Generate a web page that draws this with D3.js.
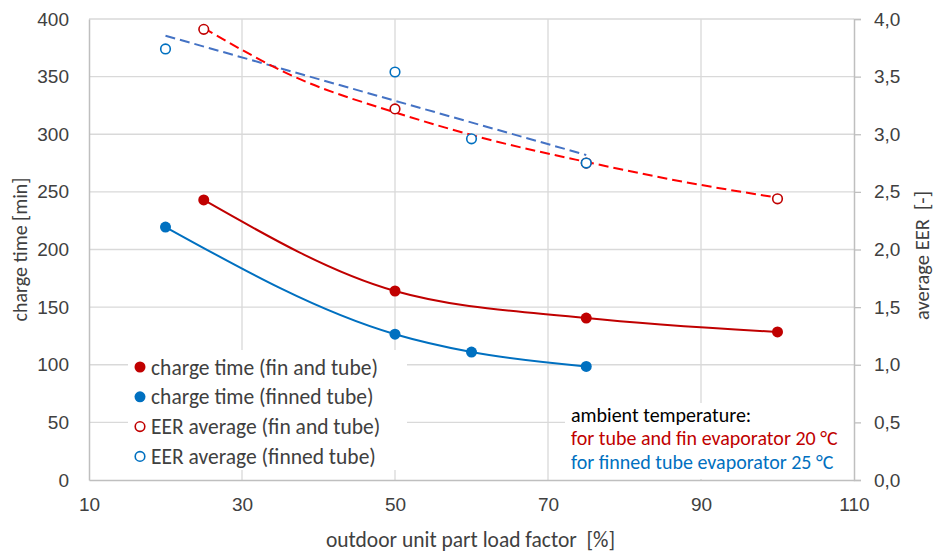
<!DOCTYPE html>
<html>
<head>
<meta charset="utf-8">
<script src="https://cdn.jsdelivr.net/npm/d3@7"></script>
<style>
  body { margin: 0; background: #fff; }
  svg { font-family: Carlito, Calibri, Lato, sans-serif; }
  .pre { white-space: pre; }
</style>
</head>
<body>
<svg id="chart" width="935" height="553"></svg>
<script>
// charge time [min]
const finTubeLoad = [25, 50, 75, 100];
const finTubeCharge = [243, 164, 140.5, 128.5];
const finnedLoad = [20, 50, 60, 75];
const finnedCharge = [219.5, 126.5, 111, 98.5];

// average EER [-]
const finTubeEER = [3.91, 3.22, 2.75, 2.44];
const finnedEER = [3.74, 3.54, 2.96, 2.75];

// trend lines
const finTubeTrendLoad = [25, 37.5, 50, 62.5, 75, 87.5, 100];
const finTubeTrendEER = [3.92, 3.48, 3.19, 2.95, 2.76, 2.59, 2.45];
const finnedTrendLoad = [20, 75];
const finnedTrendEER = [3.855, 2.82];

const xTicks = [10, 30, 50, 70, 90, 110];
const yTicks = [0, 50, 100, 150, 200, 250, 300, 350, 400];
const y2Ticks = [0, 0.5, 1, 1.5, 2, 2.5, 3, 3.5, 4];

const legendLabels = [
  'charge time (fin and tube)',
  'charge time (finned tube)',
  'EER average (fin and tube)',
  'EER average (finned tube)'
];
const noteLines = [
  'ambient temperature:',
  'for tube and fin evaporator 20 °C',
  'for finned tube evaporator 25 °C'
];

const RED = '#c00000', BLUE = '#0070c0';
const margin = { top: 19, right: 81, bottom: 73, left: 89 };
const width = 935 - margin.left - margin.right;
const height = 553 - margin.top - margin.bottom;

const svg = d3.select('#chart');
const g = svg.append('g').attr('transform', `translate(${margin.left},${margin.top})`);

const x = d3.scaleLinear().domain([10, 110]).range([0, width]);
const y = d3.scaleLinear().domain([0, 400]).range([height, 0]);
const y2 = d3.scaleLinear().domain([0, 4]).range([height, 0]);

// grid
g.append('g').selectAll('line').data(yTicks.filter(d => d > 0)).enter().append('line')
  .attr('x1', 0).attr('x2', width).attr('y1', d => y(d)).attr('y2', d => y(d))
  .attr('stroke', '#d9d9d9').attr('stroke-width', 1.3);
g.append('g').selectAll('line').data(xTicks.slice(1, -1)).enter().append('line')
  .attr('y1', 0).attr('y2', height).attr('x1', d => x(d)).attr('x2', d => x(d))
  .attr('stroke', '#d9d9d9').attr('stroke-width', 1.3);

// legend and note boxes cover the grid
g.append('rect').attr('x', 39).attr('y', 331).attr('width', 279).attr('height', 120).attr('fill', '#fff');
g.append('rect').attr('x', 476).attr('y', 384).attr('width', 289).attr('height', 76).attr('fill', '#fff');

// axes
const axL = g.append('g').call(d3.axisLeft(y).tickValues(yTicks).tickSize(0).tickPadding(20));
const axB = g.append('g').attr('transform', `translate(0,${height})`)
  .call(d3.axisBottom(x).tickValues(xTicks).tickSize(0).tickPadding(18));
const axR = g.append('g').attr('transform', `translate(${width},0)`)
  .call(d3.axisRight(y2).tickValues(y2Ticks).tickSize(7).tickPadding(13)
    .tickFormat(d => d3.format('.1f')(d).replace('.', ',')));
[axL, axB, axR].forEach(a => {
  a.select('.domain').attr('stroke', '#bfbfbf').attr('stroke-width', 1.5);
  a.selectAll('.tick line').attr('stroke', '#bfbfbf').attr('stroke-width', 1.3);
  a.selectAll('text').attr('fill', '#404040').style('font-size', '19px').style('font-family', 'inherit');
});

// axis titles
svg.append('text').attr('transform', `translate(27,${margin.top + height / 2}) rotate(-90)`)
  .attr('text-anchor', 'middle').attr('fill', '#404040').style('font-size', '20px')
  .text('charge time [min]');
svg.append('text').attr('class', 'pre').attr('transform', `translate(929,${margin.top + height / 2 + 6}) rotate(-90)`)
  .attr('text-anchor', 'middle').attr('fill', '#404040').style('font-size', '20.5px')
  .text('average EER  [-]');
svg.append('text').attr('class', 'pre').attr('x', margin.left + width / 2 - 1).attr('y', 547)
  .attr('text-anchor', 'middle').attr('fill', '#404040').style('font-size', '21.5px')
  .text('outdoor unit part load factor  [%]');

// lines
const lineC = (xs, ys, curve) => d3.line().x((d, i) => x(xs[i])).y(d => y(d)).curve(curve)(ys);
const lineE = (xs, ys, curve) => d3.line().x((d, i) => x(xs[i])).y(d => y2(d)).curve(curve)(ys);

g.append('path').attr('d', lineC(finTubeLoad, finTubeCharge, d3.curveMonotoneX))
  .attr('fill', 'none').attr('stroke', RED).attr('stroke-width', 2);
g.append('path').attr('d', lineC(finnedLoad, finnedCharge, d3.curveMonotoneX))
  .attr('fill', 'none').attr('stroke', BLUE).attr('stroke-width', 2);
g.append('path').attr('d', lineE(finnedTrendLoad, finnedTrendEER, d3.curveLinear))
  .attr('fill', 'none').attr('stroke', '#4472c4').attr('stroke-width', 2).attr('stroke-dasharray', '10,5');
g.append('path').attr('d', lineE(finTubeTrendLoad, finTubeTrendEER, d3.curveMonotoneX))
  .attr('fill', 'none').attr('stroke', '#ff0000').attr('stroke-width', 2).attr('stroke-dasharray', '10,5');

// markers
const dots = (xs, ys, scale, color, filled) => g.append('g').selectAll('circle').data(ys).enter()
  .append('circle').attr('cx', (d, i) => x(xs[i])).attr('cy', d => scale(d))
  .attr('r', filled ? 5.5 : 4.8)
  .attr('fill', filled ? color : '#fff').attr('stroke', color).attr('stroke-width', filled ? 0 : 1.6);
dots(finTubeLoad, finTubeCharge, y, RED, true);
dots(finnedLoad, finnedCharge, y, BLUE, true);
dots(finTubeLoad, finTubeEER, y2, RED, false);
dots(finnedLoad, finnedEER, y2, BLUE, false);

// legend
const legendColors = [RED, BLUE, RED, BLUE];
const leg = svg.append('g').selectAll('g').data(legendLabels).enter().append('g')
  .attr('transform', (d, i) => `translate(140,${367 + i * 29.8})`);
leg.append('circle').attr('r', (d, i) => i < 2 ? 5.5 : 4.8)
  .attr('fill', (d, i) => i < 2 ? legendColors[i] : '#fff')
  .attr('stroke', (d, i) => legendColors[i]).attr('stroke-width', (d, i) => i < 2 ? 0 : 1.6);
leg.append('text').attr('x', 11).attr('dy', '0.35em').attr('fill', '#404040')
  .style('font-size', '21.5px').text(d => d);

// note
const noteColors = ['#000', RED, BLUE];
svg.append('g').selectAll('text').data(noteLines).enter().append('text')
  .attr('x', 571).attr('y', (d, i) => 415 + i * 23.3).attr('dy', '0.35em')
  .attr('fill', (d, i) => noteColors[i]).style('font-size', '20px').text(d => d);
</script>
</body>
</html>
